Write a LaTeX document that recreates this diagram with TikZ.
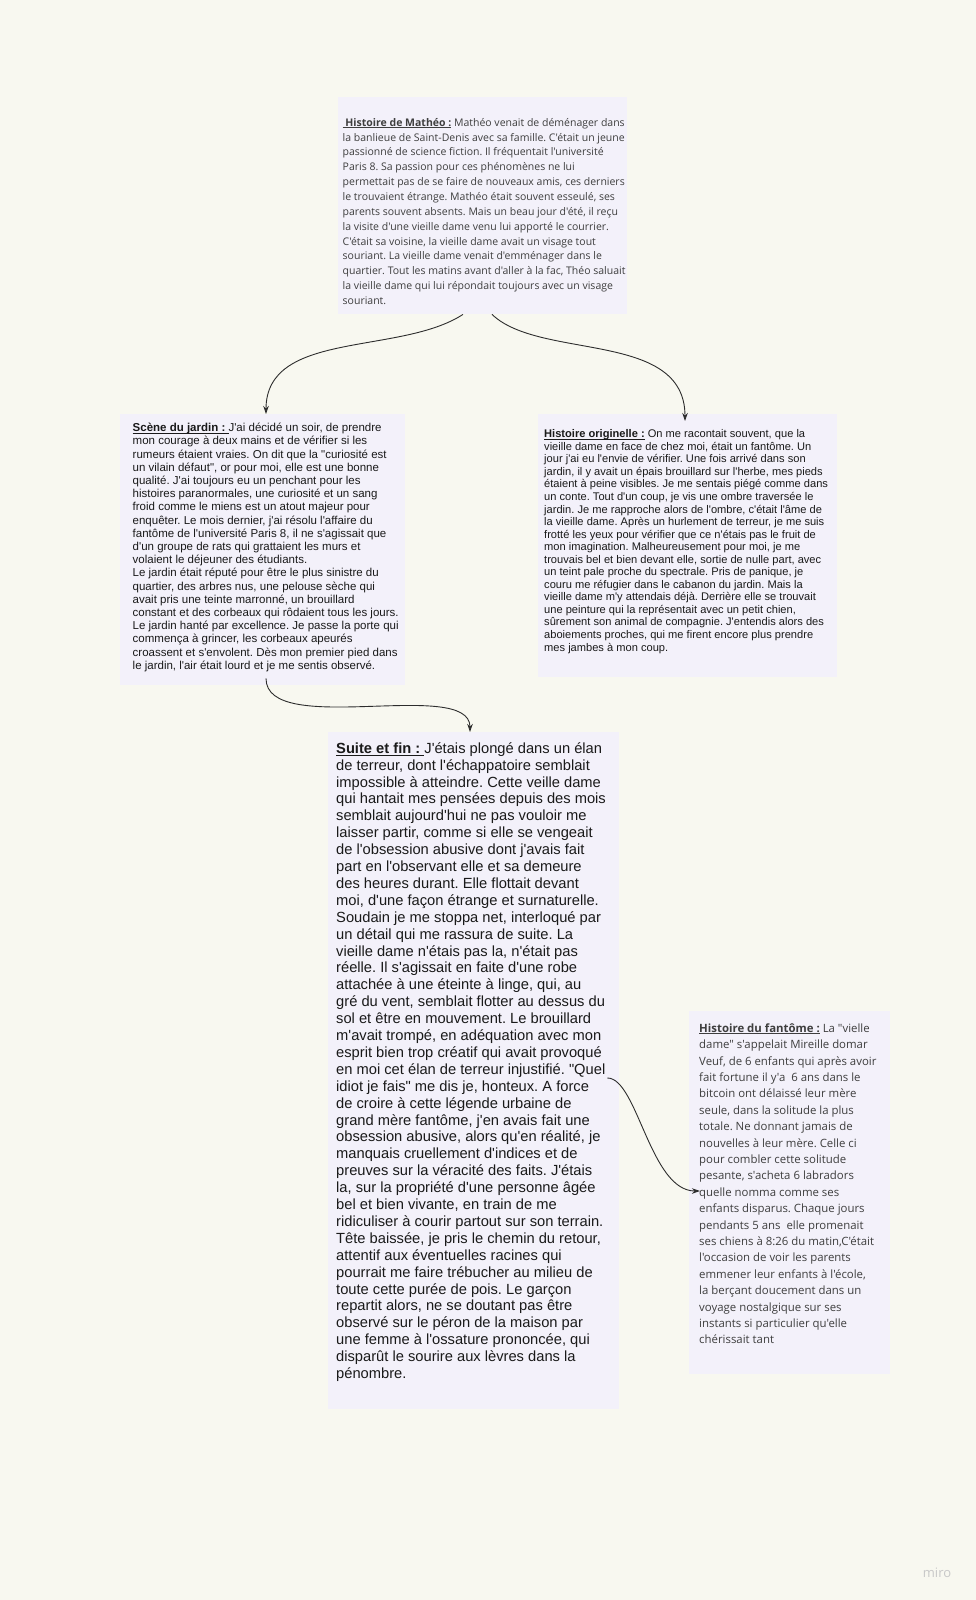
\documentclass[tikz,border=0pt]{standalone}
\usepackage{fontspec}
\setmainfont{Liberation Sans}[Ligatures=TeXOff]
\newfontfamily\osans{Open Sans}[Ligatures=TeXOff]
\usetikzlibrary{arrows.meta,calc}
\frenchspacing
\definecolor{page}{RGB}{248,248,240}
\definecolor{cardfill}{RGB}{243,241,250}
\definecolor{ink}{RGB}{26,26,26}
\definecolor{inkgray}{RGB}{62,62,62}
\definecolor{wirecol}{RGB}{45,45,45}
\definecolor{wmcol}{RGB}{200,200,200}
\newlength\cardpad
\newcommand\tl[1]{\hbox{\hskip\cardpad#1}}
\newcommand\hd[1]{\setbox0=\hbox{\textbf{#1}}\rlap{\vrule width\wd0 height -0.10em depth 0.18em}\box0\relax}
% #1 width, #2 height, #3 first baseline, #4 left pad, #5 font, #6 lines
\newcommand\cardtext[6]{\vbox to #2{#5\lineskiplimit=-\maxdimen\lineskip=0pt\cardpad=#4\relax
  \hbox to #1{}\vskip\dimexpr#3-\baselineskip\relax#6\vfil}}
\tikzset{
  card/.style={fill=cardfill, draw=none, inner sep=0pt, anchor=north west},
  wire/.style={draw=wirecol, line width=0.9pt, -{Stealth[length=8pt,width=5.5pt]}},
}
\begin{document}
\begin{tikzpicture}[x=1pt,y=-1pt]
\fill[page] (0,0) rectangle (976,1600);
\useasboundingbox (0,0) rectangle (976,1600);

\node[card, text=inkgray] (m) at (338,97) {\cardtext{289pt}{217pt}{29pt}{4.5pt}{\osans\fontsize{10.5}{14.85}\selectfont}{%
\tl{\hd{\ Histoire de Mathéo :} Mathéo venait de déménager dans}
\tl{la banlieue de Saint-Denis avec sa famille. C'était un jeune}
\tl{passionné de science fiction. Il fréquentait l'université}
\tl{Paris 8. Sa passion pour ces phénomènes ne lui}
\tl{permettait pas de se faire de nouveaux amis, ces derniers}
\tl{le trouvaient étrange. Mathéo était souvent esseulé, ses}
\tl{parents souvent absents. Mais un beau jour d'été, il reçu}
\tl{la visite d'une vieille dame venu lui apporté le courrier.}
\tl{C'était sa voisine, la vieille dame avait un visage tout}
\tl{souriant. La vieille dame venait d'emménager dans le}
\tl{quartier. Tout les matins avant d'aller à la fac, Théo saluait}
\tl{la vieille dame qui lui répondait toujours avec un visage}
\tl{souriant.}}};

\node[card, text=ink] (j) at (120,414) {\cardtext{285pt}{271pt}{17.5pt}{12.5pt}{\fontsize{11.5}{13.2}\selectfont}{%
\tl{\hd{Scène du jardin :\ }J'ai décidé un soir, de prendre}
\tl{mon courage à deux mains et de vérifier si les}
\tl{rumeurs étaient vraies. On dit que la "curiosité est}
\tl{un vilain défaut", or pour moi, elle est une bonne}
\tl{qualité. J'ai toujours eu un penchant pour les}
\tl{histoires paranormales, une curiosité et un sang}
\tl{froid comme le miens est un atout majeur pour}
\tl{enquêter. Le mois dernier, j'ai résolu l'affaire du}
\tl{fantôme de l'université Paris 8, il ne s'agissait que}
\tl{d'un groupe de rats qui grattaient les murs et}
\tl{volaient le déjeuner des étudiants.}
\tl{Le jardin était réputé pour être le plus sinistre du}
\tl{quartier, des arbres nus, une pelouse sèche qui}
\tl{avait pris une teinte marronné, un brouillard}
\tl{constant et des corbeaux qui rôdaient tous les jours.}
\tl{Le jardin hanté par excellence. Je passe la porte qui}
\tl{commença à grincer, les corbeaux apeurés}
\tl{croassent et s'envolent. Dès mon premier pied dans}
\tl{le jardin, l'air était lourd et je me sentis observé.}}};

\node[card, text=ink] (o) at (538,414) {\cardtext{299pt}{263pt}{23.5pt}{6pt}{\fontsize{11.1}{12.55}\selectfont}{%
\tl{\hd{Histoire originelle :} On me racontait souvent, que la}
\tl{vieille dame en face de chez moi, était un fantôme. Un}
\tl{jour j'ai eu l'envie de vérifier. Une fois arrivé dans son}
\tl{jardin, il y avait un épais brouillard sur l'herbe, mes pieds}
\tl{étaient à peine visibles. Je me sentais piégé comme dans}
\tl{un conte. Tout d'un coup, je vis une ombre traversée le}
\tl{jardin. Je me rapproche alors de l'ombre, c'était l'âme de}
\tl{la vieille dame. Après un hurlement de terreur, je me suis}
\tl{frotté les yeux pour vérifier que ce n'étais pas le fruit de}
\tl{mon imagination. Malheureusement pour moi, je me}
\tl{trouvais bel et bien devant elle, sortie de nulle part, avec}
\tl{un teint pale proche du spectrale. Pris de panique, je}
\tl{couru me réfugier dans le cabanon du jardin. Mais la}
\tl{vieille dame m'y attendais déjà. Derrière elle se trouvait}
\tl{une peinture qui la représentait avec un petit chien,}
\tl{sûrement son animal de compagnie. J'entendis alors des}
\tl{aboiements proches, qui me firent encore plus prendre}
\tl{mes jambes à mon coup.}}};

\node[card, text=ink] (s) at (328,732) {\cardtext{291pt}{677pt}{21pt}{8pt}{\fontsize{14.7}{16.9}\selectfont}{%
\tl{\hd{Suite et fin :\ }J'étais plongé dans un élan}
\tl{de terreur, dont l'échappatoire semblait}
\tl{impossible à atteindre. Cette veille dame}
\tl{qui hantait mes pensées depuis des mois}
\tl{semblait aujourd'hui ne pas vouloir me}
\tl{laisser partir, comme si elle se vengeait}
\tl{de l'obsession abusive dont j'avais fait}
\tl{part en l'observant elle et sa demeure}
\tl{des heures durant. Elle flottait devant}
\tl{moi, d'une façon étrange et surnaturelle.}
\tl{Soudain je me stoppa net, interloqué par}
\tl{un détail qui me rassura de suite. La}
\tl{vieille dame n'étais pas la, n'était pas}
\tl{réelle. Il s'agissait en faite d'une robe}
\tl{attachée à une éteinte à linge, qui, au}
\tl{gré du vent, semblait flotter au dessus du}
\tl{sol et être en mouvement. Le brouillard}
\tl{m'avait trompé, en adéquation avec mon}
\tl{esprit bien trop créatif qui avait provoqué}
\tl{en moi cet élan de terreur injustifié. "Quel}
\tl{idiot je fais" me dis je, honteux. A force}
\tl{de croire à cette légende urbaine de}
\tl{grand mère fantôme, j'en avais fait une}
\tl{obsession abusive, alors qu'en réalité, je}
\tl{manquais cruellement d'indices et de}
\tl{preuves sur la véracité des faits. J'étais}
\tl{la, sur la propriété d'une personne âgée}
\tl{bel et bien vivante, en train de me}
\tl{ridiculiser à courir partout sur son terrain.}
\tl{Tête baissée, je pris le chemin du retour,}
\tl{attentif aux éventuelles racines qui}
\tl{pourrait me faire trébucher au milieu de}
\tl{toute cette purée de pois. Le garçon}
\tl{repartit alors, ne se doutant pas être}
\tl{observé sur le péron de la maison par}
\tl{une femme à l'ossature prononcée, qui}
\tl{disparût le sourire aux lèvres dans la}
\tl{pénombre.}}};

\node[card, text=inkgray] (f) at (689,1011) {\cardtext{201pt}{363pt}{21pt}{10pt}{\osans\fontsize{11.4}{16.4}\selectfont}{%
\tl{\hd{Histoire du fantôme :} La "vielle}
\tl{dame" s'appelait Mireille domar}
\tl{Veuf, de 6 enfants qui après avoir}
\tl{fait fortune il y'a\ \ 6 ans dans le}
\tl{bitcoin ont délaissé leur mère}
\tl{seule, dans la solitude la plus}
\tl{totale. Ne donnant jamais de}
\tl{nouvelles à leur mère. Celle ci}
\tl{pour combler cette solitude}
\tl{pesante, s'acheta 6 labradors}
\tl{quelle nomma comme ses}
\tl{enfants disparus. Chaque jours}
\tl{pendants 5 ans\ \ elle promenait}
\tl{ses chiens à 8:26 du matin,C'était}
\tl{l'occasion de voir les parents}
\tl{emmener leur enfants à l'école,}
\tl{la berçant doucement dans un}
\tl{voyage nostalgique sur ses}
\tl{instants si particulier qu'elle}
\tl{chérissait tant}}};

\node[text=wmcol, font=\osans\fontsize{13}{15}\selectfont, inner sep=0pt] (wm) at (937,1573) {miro};

\coordinate (a1s) at ([xshift=125pt]m.south west);
\coordinate (a2s) at ([xshift=154pt]m.south west);
\coordinate (a1e) at ([xshift=146pt]j.north west);
\coordinate (a3s) at ([xshift=146pt,yshift=7pt]j.south west);
\coordinate (a2e) at ([xshift=147pt,yshift=-7pt]o.north west);
\coordinate (a3e) at ([xshift=142pt]s.north west);
\coordinate (a4s) at ([xshift=-12pt,yshift=-346pt]s.north east);
\coordinate (a4e) at ([xshift=11pt,yshift=-180pt]f.north west);

\draw[wire] (a1s) .. controls +(-63,41) and +(0,-84) .. (a1e);
\draw[wire] (a2s) .. controls +(48,46) and +(0,-91) .. (a2e);
\draw[wire] (a3s) .. controls +(0,60) and +(0,-55) .. (a3e);
\draw[wire] (a4s) .. controls +(30,0) and +(-50,0) .. (a4e);
\end{tikzpicture}
\end{document}
